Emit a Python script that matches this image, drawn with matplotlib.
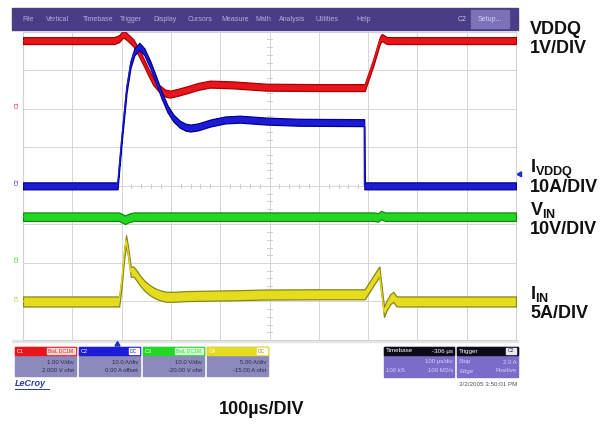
import numpy as np
import matplotlib
matplotlib.use("Agg")
import matplotlib.pyplot as plt
from matplotlib.patches import Rectangle, Polygon

plt.rcParams['font.family'] = ['Liberation Sans', 'DejaVu Sans']
plt.rcParams['mathtext.fontset'] = 'custom'
plt.rcParams['mathtext.rm'] = 'Liberation Sans'
plt.rcParams['mathtext.bf'] = 'Liberation Sans:bold'

# ---------------- data (time in µs from left edge of screen) ----------------
# C1: VDDQ (V), 1 V/div, offset 2.000 V
t_vddq = [0, 185, 195, 203, 210, 224, 234, 244, 254, 264, 276, 288, 298, 312, 332,
          355, 379, 426, 494, 600, 693, 710, 724, 728, 738, 1000]
v_vddq = [1.77, 1.77, 1.82, 1.94, 1.88, 1.71, 1.48, 1.23, 0.96, 0.71, 0.53, 0.41, 0.38,
          0.42, 0.49, 0.58, 0.64, 0.62, 0.56, 0.55, 0.55, 1.18, 1.78, 1.85, 1.77, 1.77]
# C2: I_VDDQ (A), 10 A/div, offset 0 A
t_ivddq = [0, 191.7, 200, 210, 218, 226, 236, 246, 258, 270, 281, 293, 305, 318, 330,
           340, 355, 380, 410, 440, 494, 560, 692, 692.5, 1000]
i_ivddq = [0.0, 0.0, 12.0, 25.0, 31.5, 34.8, 36.2, 34.8, 31.5, 27.5, 23.6, 20.0, 17.6,
           16.0, 15.2, 15.0, 15.3, 16.3, 17.1, 17.3, 16.8, 16.5, 16.4, 0.0, 0.0]
# C3: V_IN (V), 10 V/div, offset -20 V
t_vin = [0, 195, 207, 215, 225, 712, 720, 726, 735, 1000]
v_vin = [12.0, 12.0, 11.2, 11.7, 12.0, 12.0, 11.8, 12.4, 12.0, 12.0]
# C4: I_IN (A), 5 A/div, offset -15 A
t_iin = [0, 195, 200, 205, 209, 213, 218.5, 223.7, 230, 237, 247, 257.6, 268, 278,
         291, 310, 332, 426, 494, 600, 693, 722.7, 732.3, 737.7, 745, 751, 758, 1000]
i_iin = [0.0, 0.0, 2.5, 6.0, 7.95, 6.5, 3.85, 3.9, 3.4, 2.75, 2.0, 1.45, 1.05, 0.8,
         0.6, 0.62, 0.7, 0.8, 0.9, 0.93, 0.93, 3.9, -1.35, -0.5, 0.3, 0.6, 0.0, 0.0]

# channel settings: (scale per div, offset)
ch_scale = [1.0, 10.0, 10.0, 5.0]
ch_offset = [2.0, 0.0, -20.0, -15.0]
ch_names = ["C1", "C2", "C3", "C4"]
ch_face = ['#e8161c', '#1c1cd8', '#22d822', '#e4dc1c']
ch_edge = ['#a80000', '#00008c', '#108a10', '#86861a']
ch_halfw = [0.09, 0.09, 0.11, 0.13]
ch_hdr_tag = ["BwL DC1M", "DC", "BwL DC1M", "DC"]
ch_line1 = ["1.00 V/div", "10.0 A/div", "10.0 V/div", "5.00 A/div"]
ch_line2 = ["2.000 V ofst", "0.00 A offset", "-20.00 V ofst", "-15.00 A ofst"]

menu_items = ["File", "Vertical", "Timebase", "Trigger", "Display", "Cursors",
              "Measure", "Math", "Analysis", "Utilities", "Help"]
menu_x = [22, 45.6, 82.8, 120, 153.8, 187.6, 221.4, 255.2, 278.8, 316, 356.6]

trigger_time = 191.7
trigger_level_div = 0.3

# ---------------- figure ----------------
W, H = 614, 424
fig = plt.figure(figsize=(W / 100, H / 100), dpi=100)
fig.patch.set_facecolor('white')
bg = fig.add_axes([0, 0, 1, 1])
bg.set_xlim(0, W)
bg.set_ylim(H, 0)
bg.axis('off')

# toolbar
bg.add_patch(Rectangle((12, 8), 506, 22, color='#4a3c86', zorder=1))
bg.add_patch(Rectangle((471, 10), 38, 18, color='#7b72b8', zorder=2))
bg.text(490, 19.5, "Setup...", fontsize=5, color='#d8d4f0', ha='center', va='center', zorder=3)
bg.text(458, 19.5, "C2", fontsize=5, color='#c8c4e8', ha='left', va='center', zorder=3)
for name, x in zip(menu_items, menu_x):
    bg.text(x, 19.5, name, fontsize=5, color='#b4b0d8', ha='left', va='center', zorder=3)

# scope screen
X0, X1, Y0, Y1 = 23, 516, 31.7, 340
ax = fig.add_axes([X0 / W, 1 - Y1 / H, (X1 - X0) / W, (Y1 - Y0) / H])
ax.set_xlim(0, 1000)
ax.set_ylim(-4, 4)
ax.set_xticks(np.arange(0, 1001, 100))
ax.set_yticks(np.arange(-4, 5, 1))
ax.grid(True, color='#d6d6d6', lw=0.7)
ax.tick_params(length=0, labelbottom=False, labelleft=False)
for s in ax.spines.values():
    s.set_color('#d2d2d2')
    s.set_linewidth(0.8)
# minor ticks on the centre lines
for x in np.arange(0, 1001, 20):
    ax.plot([x, x], [-0.05, 0.05], color='#c4c4c4', lw=0.6, zorder=1)
for y in np.arange(-4, 4.01, 0.2):
    ax.plot([495, 505], [y, y], color='#c4c4c4', lw=0.6, zorder=1)

traces = [(t_vddq, v_vddq), (t_ivddq, i_ivddq), (t_vin, v_vin), (t_iin, i_iin)]
order = [2, 3, 0, 1]
for k in order:
    t, v = traces[k]
    t = np.asarray(t, float)
    d = (np.asarray(v, float) + ch_offset[k]) / ch_scale[k]
    w = ch_halfw[k]
    ax.fill_between(t, d - w, d + w, facecolor=ch_face[k], edgecolor=ch_edge[k],
                    lw=0.9, zorder=3 + k)
    ax.plot(t, d, color=ch_face[k], lw=0.9, zorder=3 + k)

# channel ground markers on the left
for k in range(4):
    gnd = ch_offset[k] / ch_scale[k]
    ax.text(-12, gnd + 0.1, ch_names[k], fontsize=3.8, color=ch_face[k] if k != 3 else '#c8c020',
            rotation=90, ha='center', va='center', clip_on=False)

# trigger position / level markers
tx = X0 + trigger_time / 1000 * (X1 - X0)
bg.add_patch(Polygon([[tx, 341.5], [tx - 2.5, 346], [tx + 2.5, 346]], color='#2030c0', zorder=5))
ty = (Y0 + Y1) / 2 - trigger_level_div * (Y1 - Y0) / 8
bg.add_patch(Polygon([[517, ty], [521.5, ty - 2.5], [521.5, ty + 2.5]], color='#2030c0', zorder=5))

# strip under the grid
bg.add_patch(Rectangle((12, 340), 506, 2.2, color='#e4e4e4', zorder=1))

# channel descriptor boxes
hdr_tag_bg = ['#ffd8d8', '#ffffff', '#d8ffd8', '#fffff0']
for k in range(4):
    x0 = 15 + k * 64
    bg.add_patch(Rectangle((x0, 347), 61, 29, color='#8c8abc', zorder=2))
    bg.add_patch(Rectangle((x0, 347), 61, 8, color=ch_face[k], zorder=3))
    tw = 28 if len(ch_hdr_tag[k]) > 3 else 10
    bg.add_patch(Rectangle((x0 + 60 - tw, 348), tw, 6, color=hdr_tag_bg[k], zorder=4))
    bg.text(x0 + 59.5 - tw / 2, 351.2, ch_hdr_tag[k], fontsize=3.6, color=ch_face[k] if k != 3 else '#9a9410',
            ha='center', va='center', zorder=5)
    bg.text(x0 + 2, 351.2, ch_names[k], fontsize=4, color='white', ha='left', va='center', zorder=5)
    bg.text(x0 + 59, 362, ch_line1[k], fontsize=4.3, color='#2a2a48', ha='right', va='center', zorder=5)
    bg.text(x0 + 59, 370.5, ch_line2[k], fontsize=4.3, color='#2a2a48', ha='right', va='center', zorder=5)

# timebase and trigger boxes
for (x0, wbox) in [(384, 70), (457, 61)]:
    bg.add_patch(Rectangle((x0, 347), wbox, 30, color='#7a6cc8', zorder=2))
    bg.add_patch(Rectangle((x0, 347), wbox, 7.5, color='#0c0c18', zorder=3))
bg.text(386, 351, "Timebase", fontsize=4.5, color='white', va='center', zorder=5)
bg.text(453, 351, "-306 µs", fontsize=4.5, color='white', ha='right', va='center', zorder=5)
bg.text(453, 362, "100 µs/div", fontsize=4.3, color='#d8d0ff', ha='right', va='center', zorder=5)
bg.text(386, 371, "100 kS", fontsize=4.3, color='#d8d0ff', va='center', zorder=5)
bg.text(453, 371, "100 MS/s", fontsize=4.3, color='#d8d0ff', ha='right', va='center', zorder=5)
bg.text(459, 351, "Trigger", fontsize=4.5, color='white', va='center', zorder=5)
bg.add_patch(Rectangle((506, 348), 10, 5.5, color='#e8e8f0', zorder=4))
bg.text(511, 350.8, "C2", fontsize=3.6, color='#202040', ha='center', va='center', zorder=5)
bg.text(459, 362, "Stop", fontsize=4.3, color='#d8d0ff', va='center', zorder=5)
bg.text(517, 362, "2.0 A", fontsize=4.3, color='#d8d0ff', ha='right', va='center', zorder=5)
bg.text(459, 371, "Edge", fontsize=4.3, color='#d8d0ff', va='center', zorder=5)
bg.text(517, 371, "Positive", fontsize=4.3, color='#d8d0ff', ha='right', va='center', zorder=5)

bg.text(517, 384, "3/2/2005 3:50:01 PM", fontsize=4.5, color='#505050', ha='right', va='center')
bg.text(15, 384, "LeCroy", fontsize=6.5, color='#2c3c9c', fontweight='bold', style='italic',
        ha='left', va='center')
bg.plot([15, 49], [388.5, 388.5], color='#2c3c9c', lw=0.7)

# annotation labels on the right
lab_kw = dict(fontsize=13, fontweight='bold', color='#111111', ha='left')
bg.text(530, 30, "VDDQ", va='center', **lab_kw)
bg.text(530, 48.5, "1V/DIV", va='center', **lab_kw)
bg.text(530, 173, r"$\mathbf{I}_{\mathbf{VDDQ}}$", va='baseline', **lab_kw)
bg.text(530, 188, "10A/DIV", va='center', **lab_kw)
bg.text(530, 214.5, r"$\mathbf{V}_{\mathbf{IN}}$", va='baseline', **lab_kw)
bg.text(530, 229, "10V/DIV", va='center', **lab_kw)
bg.text(530, 299, r"$\mathbf{I}_{\mathbf{IN}}$", va='baseline', **lab_kw)
bg.text(530, 313.5, "5A/DIV", va='center', **lab_kw)
bg.text(262, 410, "100µs/DIV", va='center', fontsize=13, fontweight='bold',
        color='#111111', ha='center')

fig.savefig("out.png", dpi=100)
